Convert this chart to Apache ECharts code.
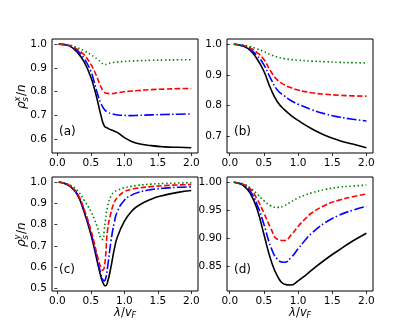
<!DOCTYPE html>
<html>
<head>
<meta charset="utf-8">
<script src="https://cdn.jsdelivr.net/npm/echarts@6/dist/echarts.min.js"></script>
<style>
  html, body { margin: 0; padding: 0; background: #fff; }
  #main { width: 415px; height: 327px; }
</style>
</head>
<body>
<div id="main"></div>
<script>
// x grids for each panel
var xA = [0.02, 0.1, 0.2, 0.3, 0.4, 0.5, 0.55, 0.6, 0.65, 0.7, 0.75, 0.8, 0.9, 1.0, 1.1, 1.2, 1.4, 1.6, 1.8, 2.0];
var xB = [0.06, 0.1, 0.2, 0.3, 0.4, 0.5, 0.6, 0.7, 0.8, 0.9, 1.0, 1.2, 1.4, 1.6, 1.8, 2.0];
var xC = [0.02, 0.1, 0.2, 0.3, 0.4, 0.5, 0.55, 0.6, 0.65, 0.68, 0.7, 0.72, 0.75, 0.8, 0.85, 0.9, 1.0, 1.1, 1.2, 1.4, 1.6, 1.8, 2.0];
var xD = [0.06, 0.1, 0.2, 0.3, 0.4, 0.5, 0.6, 0.7, 0.8, 0.9, 1.0, 1.1, 1.2, 1.4, 1.6, 1.8, 2.0];

// panel (a)
var blackA = [1.0, 0.999, 0.99, 0.965, 0.925, 0.86, 0.815, 0.76, 0.70, 0.655, 0.645, 0.638, 0.626, 0.605, 0.59, 0.58, 0.571, 0.566, 0.564, 0.562];
var blueA  = [1.0, 0.999, 0.99, 0.972, 0.94, 0.885, 0.84, 0.79, 0.75, 0.725, 0.713, 0.707, 0.701, 0.699, 0.698, 0.699, 0.701, 0.703, 0.704, 0.705];
var redA   = [1.0, 0.999, 0.993, 0.978, 0.955, 0.915, 0.888, 0.855, 0.82, 0.797, 0.792, 0.791, 0.795, 0.799, 0.802, 0.804, 0.808, 0.81, 0.812, 0.813];
var greenA = [1.0, 0.999, 0.995, 0.985, 0.972, 0.956, 0.946, 0.936, 0.925, 0.914, 0.917, 0.921, 0.925, 0.927, 0.929, 0.93, 0.932, 0.933, 0.934, 0.934];

// panel (b)
var blackB = [1.0, 0.999, 0.993, 0.98, 0.952, 0.912, 0.855, 0.812, 0.787, 0.768, 0.752, 0.725, 0.703, 0.687, 0.675, 0.663];
var blueB  = [1.0, 0.999, 0.994, 0.983, 0.963, 0.933, 0.888, 0.85, 0.832, 0.816, 0.805, 0.787, 0.773, 0.763, 0.756, 0.75];
var redB   = [1.0, 0.999, 0.996, 0.988, 0.973, 0.95, 0.912, 0.883, 0.868, 0.858, 0.851, 0.842, 0.837, 0.834, 0.832, 0.831];
var greenB = [1.0, 0.999, 0.997, 0.992, 0.985, 0.976, 0.966, 0.958, 0.953, 0.95, 0.948, 0.945, 0.943, 0.941, 0.94, 0.939];

// panel (c)
var blackC = [1.0, 0.995, 0.978, 0.94, 0.86, 0.755, 0.69, 0.62, 0.555, 0.527, 0.515, 0.512, 0.53, 0.6, 0.685, 0.745, 0.815, 0.86, 0.888, 0.92, 0.939, 0.952, 0.961];
var blueC  = [1.0, 0.995, 0.979, 0.942, 0.865, 0.762, 0.70, 0.632, 0.567, 0.54, 0.535, 0.545, 0.6, 0.72, 0.81, 0.865, 0.915, 0.938, 0.951, 0.965, 0.972, 0.976, 0.978];
var redC   = [1.0, 0.996, 0.98, 0.945, 0.872, 0.775, 0.715, 0.65, 0.597, 0.585, 0.6, 0.65, 0.775, 0.855, 0.905, 0.93, 0.955, 0.966, 0.972, 0.979, 0.984, 0.987, 0.989];
var greenC = [1.0, 0.996, 0.985, 0.96, 0.915, 0.862, 0.828, 0.785, 0.735, 0.73, 0.775, 0.825, 0.885, 0.935, 0.953, 0.962, 0.974, 0.98, 0.985, 0.991, 0.994, 0.996, 0.997];

// panel (d)
var blackD = [1.0, 0.999, 0.994, 0.98, 0.952, 0.907, 0.862, 0.832, 0.818, 0.8165, 0.824, 0.833, 0.843, 0.862, 0.879, 0.895, 0.909];
var blueD  = [1.0, 0.999, 0.995, 0.984, 0.96, 0.925, 0.885, 0.862, 0.857, 0.866, 0.881, 0.896, 0.909, 0.928, 0.941, 0.95, 0.957];
var redD   = [1.0, 0.999, 0.996, 0.988, 0.97, 0.945, 0.918, 0.898, 0.896, 0.906, 0.921, 0.934, 0.945, 0.959, 0.968, 0.974, 0.979];
var greenD = [1.0, 0.9995, 0.997, 0.99, 0.979, 0.967, 0.958, 0.955, 0.958, 0.965, 0.972, 0.977, 0.981, 0.987, 0.991, 0.993, 0.995];

// tick labels
var xTicks = [0, 0.5, 1.0, 1.5, 2.0];
var yTicksA = [0.6, 0.7, 0.8, 0.9, 1.0];
var yTicksB = [0.7, 0.8, 0.9, 1.0];
var yTicksC = [0.5, 0.6, 0.7, 0.8, 0.9, 1.0];
var yTicksD = [0.85, 0.90, 0.95, 1.00];
var panelNames = ['(a)', '(b)', '(c)', '(d)'];

var FONT = 'DejaVu Sans';
var chart = echarts.init(document.getElementById('main'));

function zip(xs, ys) {
  return xs.map(function (x, i) { return [x, ys[i]]; });
}

var panels = [
  { grid: { left: 52, top: 39, width: 146, height: 114 }, xr: [-0.08, 2.1], yr: [0.54, 1.022], yt: yTicksA, dec: 1, x: xA, ys: [blackA, blueA, redA, greenA] },
  { grid: { left: 227, top: 39, width: 146, height: 114 }, xr: [-0.04, 2.097], yr: [0.646, 1.017], yt: yTicksB, dec: 1, x: xB, ys: [blackB, blueB, redB, greenB] },
  { grid: { left: 52, top: 177, width: 146, height: 114 }, xr: [-0.08, 2.1], yr: [0.4876, 1.0244], yt: yTicksC, dec: 1, x: xC, ys: [blackC, blueC, redC, greenC] },
  { grid: { left: 227, top: 177, width: 146, height: 114 }, xr: [-0.04, 2.097], yr: [0.8058, 1.00925], yt: yTicksD, dec: 2, x: xD, ys: [blackD, blueD, redD, greenD] }
];

// black solid, blue dash-dot, red dashed, green dotted
var styles = [
  { color: '#000000', type: 'solid' },
  { color: '#0000ff', type: [9.6, 2.4, 1.5, 2.4] },
  { color: '#ff0000', type: [5.5, 2.4] },
  { color: '#008000', type: [1.5, 2.5] }
];

var grids = [], xAxes = [], yAxes = [], series = [], graphics = [];

panels.forEach(function (p, i) {
  grids.push(Object.assign({ show: true, borderColor: '#000', borderWidth: 1, backgroundColor: '#fff' }, p.grid));
  xAxes.push({
    gridIndex: i, type: 'value', min: p.xr[0], max: p.xr[1],
    axisLine: { show: false },
    splitLine: { show: false },
    axisTick: { show: true, length: 3, customValues: xTicks, lineStyle: { color: '#000', width: 0.8 } },
    axisLabel: {
      customValues: xTicks, margin: 5, color: '#000', fontSize: 10.5, fontFamily: FONT,
      formatter: function (v) { return v.toFixed(1); }
    }
  });
  yAxes.push({
    gridIndex: i, type: 'value', min: p.yr[0], max: p.yr[1],
    axisLine: { show: false },
    splitLine: { show: false },
    axisTick: { show: true, length: 3, customValues: p.yt, lineStyle: { color: '#000', width: 0.8 } },
    axisLabel: {
      customValues: p.yt, margin: 5, color: '#000', fontSize: 10.5, fontFamily: FONT,
      formatter: function (v) { return v.toFixed(p.dec); }
    }
  });
  p.ys.forEach(function (ys, k) {
    series.push({
      type: 'line', xAxisIndex: i, yAxisIndex: i,
      data: zip(p.x, ys),
      symbol: 'none', smooth: 0.5,
      lineStyle: { color: styles[k].color, width: 1.6, type: styles[k].type }
    });
  });
  graphics.push({
    type: 'text', left: p.grid.left + 7, top: p.grid.top + 87,
    style: { text: panelNames[i], fontSize: 12, fontFamily: FONT, fill: '#000' }
  });
});

// rotated y labels  rho_s^x / n  and  rho_s^y / n
function yLabel(cx, cy, sup) {
  return {
    type: 'group', x: cx, y: cy, rotation: Math.PI / 2,
    children: [
      { type: 'text', x: -13, y: 0, style: { text: 'ρ', fontSize: 12, fontStyle: 'italic', fontFamily: FONT, fill: '#000', verticalAlign: 'middle' } },
      { type: 'text', x: -5.5, y: -4, style: { text: sup, fontSize: 8.5, fontStyle: 'italic', fontFamily: FONT, fill: '#000', verticalAlign: 'middle' } },
      { type: 'text', x: -5.5, y: 4, style: { text: 's', fontSize: 8.5, fontStyle: 'italic', fontFamily: FONT, fill: '#000', verticalAlign: 'middle' } },
      { type: 'text', x: 0, y: 0, style: { text: '/', fontSize: 12, fontFamily: FONT, fill: '#000', verticalAlign: 'middle' } },
      { type: 'text', x: 4, y: 0, style: { text: 'n', fontSize: 12, fontStyle: 'italic', fontFamily: FONT, fill: '#000', verticalAlign: 'middle' } }
    ]
  };
}
// x label  lambda / v_F
function xLabel(cx, cy) {
  return {
    type: 'group', x: cx, y: cy,
    children: [
      { type: 'text', x: -11, y: 0, style: { text: 'λ', fontSize: 11.5, fontStyle: 'italic', fontFamily: FONT, fill: '#000', verticalAlign: 'middle' } },
      { type: 'text', x: -4, y: 0, style: { text: '/', fontSize: 11.5, fontFamily: FONT, fill: '#000', verticalAlign: 'middle' } },
      { type: 'text', x: 0, y: 0, style: { text: 'v', fontSize: 11.5, fontStyle: 'italic', fontFamily: FONT, fill: '#000', verticalAlign: 'middle' } },
      { type: 'text', x: 6.5, y: 3, style: { text: 'F', fontSize: 8, fontStyle: 'italic', fontFamily: FONT, fill: '#000', verticalAlign: 'middle' } }
    ]
  };
}
graphics.push(yLabel(22, 96, 'x'));
graphics.push(yLabel(22, 234, 'y'));
graphics.push(xLabel(125, 313));
graphics.push(xLabel(300, 313));

var option = {
  animation: false,
  backgroundColor: '#fff',
  grid: grids,
  xAxis: xAxes,
  yAxis: yAxes,
  series: series,
  graphic: graphics
};
chart.setOption(option);
</script>
</body>
</html>
